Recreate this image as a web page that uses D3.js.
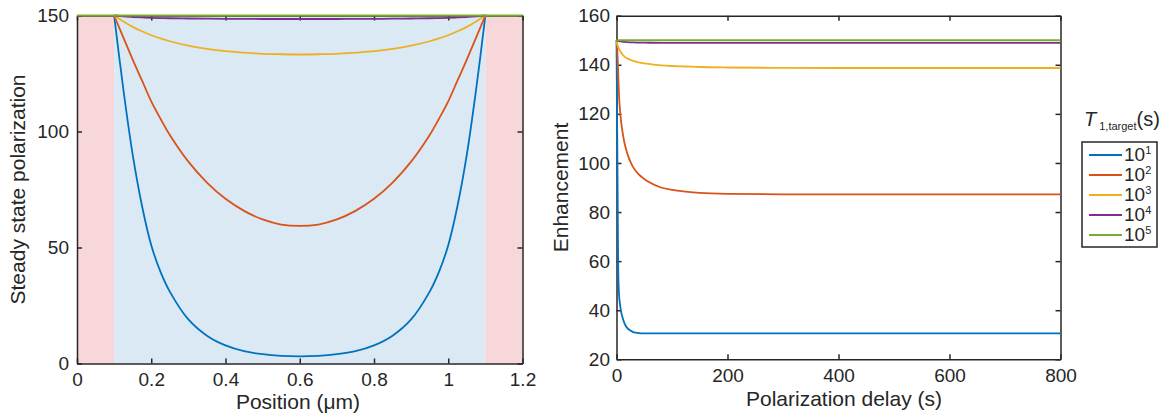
<!DOCTYPE html>
<html lang="en">
<head>
<meta charset="utf-8">
<title>Steady state polarization and enhancement</title>
<script src="https://cdnjs.cloudflare.com/ajax/libs/d3/7.8.5/d3.min.js"></script>
<style>
  body { margin: 0; background: #fff; }
  svg { display: block; font-family: "Liberation Sans", Arial, Helvetica, sans-serif; }
  .axis text { font-size: 19px; fill: #262626; }
  .axis path, .axis line { stroke: #262626; stroke-width: 1.5; }
  .label { font-size: 21px; fill: #262626; text-anchor: middle; }
</style>
</head>
<body>
<div id="chart"></div>
<script>
// ---- data ----
const colors = ["#0072BD", "#D95319", "#EDB120", "#7E2F8E", "#77AC30"];
const exponents = ["1", "2", "3", "4", "5"];

// left panel: position (um), inside the 0.1 - 1.1 region
const position = [0.1, 0.125, 0.15, 0.175, 0.2, 0.225, 0.25, 0.3, 0.35, 0.4, 0.45, 0.5, 0.55, 0.6,
                  0.65, 0.7, 0.75, 0.8, 0.85, 0.9, 0.95, 0.975, 1.0, 1.025, 1.05, 1.075, 1.1];
const polBlue   = [150, 118, 90, 68, 51, 39.5, 31, 19, 12, 7.8, 5.3, 4.0, 3.3, 3.1,
                   3.3, 4.0, 5.3, 7.8, 12, 19, 31, 39.5, 51, 68, 90, 118, 150];
const polOrange = [150, 140.5, 131, 122, 113, 105.5, 98.5, 87, 78, 71, 65.8, 62.1, 59.9, 59.3,
                   59.9, 62.1, 65.8, 71, 78, 87, 98.5, 105.5, 113, 122, 131, 140.5, 150];
const polYellow = [150, 147.4, 145.1, 143.2, 141.5, 140.1, 138.9, 137.0, 135.6, 134.6, 134.0, 133.5, 133.3, 133.2,
                   133.3, 133.5, 134.0, 134.6, 135.6, 137.0, 138.9, 140.1, 141.5, 143.2, 145.1, 147.4, 150];
const polPurple = [150, 149.6, 149.35, 149.15, 149.0, 148.9, 148.82, 148.7, 148.62, 148.56, 148.52, 148.5, 148.5, 148.5,
                   148.5, 148.5, 148.52, 148.56, 148.62, 148.7, 148.82, 148.9, 149.0, 149.15, 149.35, 149.6, 150];
// the 10^5 curve stays at 150 across the whole 0 - 1.2 span
const greenPosition = [0, 0.1, 1.1, 1.2];
const polGreen = [150, 150, 150, 150];
const regions = [[0, 0.1, "#f8d7db"], [0.1, 1.1, "#dbe9f4"], [1.1, 1.2, "#f8d7db"]];

// right panel: polarization delay (s)
const delay = [0, 0.5, 1, 1.5, 2, 2.5, 3, 4, 5, 6, 8, 10, 12, 15, 20, 25, 30, 40, 50, 60, 80, 100,
               125, 150, 200, 300, 400, 500, 600, 700, 800];
const enhBlue   = [150, 135, 120, 105, 90, 72, 58, 49, 45, 43, 39.8, 37.8, 36.2, 34.3, 32.6, 31.7, 31.1,
                   30.7, 30.6, 30.6, 30.6, 30.6, 30.6, 30.6, 30.6, 30.6, 30.6, 30.6, 30.6, 30.6, 30.6];
const enhOrange = [150, 149, 147.5, 145.5, 143, 140, 137, 130.5, 125.5, 122.5, 117.5, 114, 111, 107.5, 103.5,
                   100.5, 98.3, 95.3, 93.5, 92, 90, 89, 88.3, 87.8, 87.4, 87.2, 87.2, 87.2, 87.2, 87.2, 87.2];
const enhYellow = [150, 149.3, 148.7, 148.3, 147.9, 147.6, 147.3, 146.8, 146.3, 145.9, 145.1, 144.4, 143.9,
                   143.2, 142.5, 142, 141.6, 141, 140.6, 140.3, 139.8, 139.5, 139.3, 139.1, 138.9, 138.75,
                   138.7, 138.7, 138.7, 138.7, 138.7];
const enhPurple = [150, 149.95, 149.9, 149.85, 149.8, 149.75, 149.7, 149.65, 149.6, 149.55, 149.5, 149.4,
                   149.35, 149.3, 149.2, 149.15, 149.1, 149.05, 149, 148.98, 148.95, 148.93, 148.92, 148.91,
                   148.9, 148.9, 148.9, 148.9, 148.9, 148.9, 148.9];
const enhGreen  = [150, 150, 150, 150, 150, 150, 150, 150, 150, 150, 150, 150, 150, 150, 150, 150, 150,
                   150, 150, 150, 150, 150, 150, 150, 150, 150, 150, 150, 150, 150, 150];

const posTicks = [0, 0.2, 0.4, 0.6, 0.8, 1, 1.2];
const polTicks = [0, 50, 100, 150];
const delayTicks = [0, 200, 400, 600, 800];
const enhTicks = [20, 40, 60, 80, 100, 120, 140, 160];

const polSeries = [
  { x: position, y: polBlue }, { x: position, y: polOrange }, { x: position, y: polYellow },
  { x: position, y: polPurple }, { x: greenPosition, y: polGreen }
];
const enhSeries = [enhBlue, enhOrange, enhYellow, enhPurple, enhGreen];

// ---- drawing ----
const svg = d3.select("#chart").append("svg")
  .attr("width", 1171).attr("height", 419);

function boxAxes(g, x, y, xTicks, yTicks, xFmt, padX, padY) {
  const [x0, x1] = x.range();
  const [y0, y1] = y.range();
  g.append("g").attr("class", "axis").attr("transform", `translate(0,${y0})`)
    .call(d3.axisBottom(x).tickValues(xTicks).tickFormat(xFmt).tickSize(-5).tickSizeOuter(0).tickPadding(padX));
  g.append("g").attr("class", "axis").attr("transform", `translate(0,${y1})`)
    .call(d3.axisTop(x).tickValues(xTicks).tickFormat("").tickSize(-5).tickSizeOuter(0));
  g.append("g").attr("class", "axis").attr("transform", `translate(${x0},0)`)
    .call(d3.axisLeft(y).tickValues(yTicks).tickSize(-5).tickSizeOuter(0).tickPadding(padY));
  g.append("g").attr("class", "axis").attr("transform", `translate(${x1},0)`)
    .call(d3.axisRight(y).tickValues(yTicks).tickFormat("").tickSize(-5).tickSizeOuter(0));
  g.selectAll(".axis").attr("font-size", null).attr("font-family", null);
}

// left panel
const xL = d3.scaleLinear().domain([0, 1.2]).range([77, 522.5]);
const yL = d3.scaleLinear().domain([0, 150]).range([363.5, 15.5]);
const gL = svg.append("g");

gL.selectAll("rect.region").data(regions).enter().append("rect")
  .attr("class", "region")
  .attr("x", d => xL(d[0])).attr("width", d => xL(d[1]) - xL(d[0]))
  .attr("y", yL(150)).attr("height", yL(0) - yL(150))
  .attr("fill", d => d[2]);

boxAxes(gL, xL, yL, posTicks, polTicks, d3.format("~g"), 9, 8);

gL.selectAll("path.series").data(polSeries).enter().append("path")
  .attr("class", "series")
  .attr("d", s => d3.line().x((d, i) => xL(s.x[i])).y(d => yL(d)).curve(d3.curveCatmullRom.alpha(0.5))(s.y))
  .attr("fill", "none")
  .attr("stroke", (d, i) => colors[i])
  .attr("stroke-width", 1.8);

gL.append("text").attr("class", "label")
  .attr("x", 298).attr("y", 409).text("Position (μm)");
gL.append("text").attr("class", "label")
  .attr("transform", `translate(25,${(yL(0) + yL(150)) / 2}) rotate(-90)`)
  .text("Steady state polarization");

// right panel
const xR = d3.scaleLinear().domain([0, 800]).range([616.5, 1060.5]);
const yR = d3.scaleLinear().domain([20, 160]).range([359.3, 15.7]);
const gR = svg.append("g");

boxAxes(gR, xR, yR, delayTicks, enhTicks, d3.format("d"), 9, 6.5);

const lineR = d3.line().x((d, i) => xR(delay[i])).y(d => yR(d)).curve(d3.curveMonotoneX);
gR.selectAll("path.series").data(enhSeries).enter().append("path")
  .attr("class", "series")
  .attr("d", lineR)
  .attr("fill", "none")
  .attr("stroke", (d, i) => colors[i])
  .attr("stroke-width", 1.8);

gR.append("text").attr("class", "label")
  .attr("x", 844).attr("y", 406).text("Polarization delay (s)");
gR.append("text").attr("class", "label")
  .attr("transform", `translate(568,${(yR(20) + yR(160)) / 2}) rotate(-90)`)
  .text("Enhancement");

// legend
const title = svg.append("text").attr("x", 1084).attr("y", 126)
  .attr("fill", "#262626").attr("font-size", 20);
title.append("tspan").attr("font-style", "italic").text("T");
title.append("tspan").attr("font-size", 11).attr("dx", 3).attr("dy", 4).text("1,target");
title.append("tspan").attr("dy", -4).text("(s)");

const legend = svg.append("g");
legend.append("rect")
  .attr("x", 1082).attr("y", 142).attr("width", 75).attr("height", 105)
  .attr("fill", "#fff").attr("stroke", "#262626").attr("stroke-width", 1.5);

const items = legend.selectAll("g.item").data(exponents).enter().append("g")
  .attr("class", "item")
  .attr("transform", (d, i) => `translate(0,${155 + i * 20})`);
items.append("line")
  .attr("x1", 1089).attr("x2", 1122)
  .attr("stroke", (d, i) => colors[i]).attr("stroke-width", 1.8);
const lt = items.append("text").attr("x", 1124).attr("y", 6)
  .attr("font-size", 19).attr("fill", "#262626");
lt.append("tspan").text("10");
lt.append("tspan").attr("font-size", 11).attr("dy", -7).text(d => d);
</script>
</body>
</html>
